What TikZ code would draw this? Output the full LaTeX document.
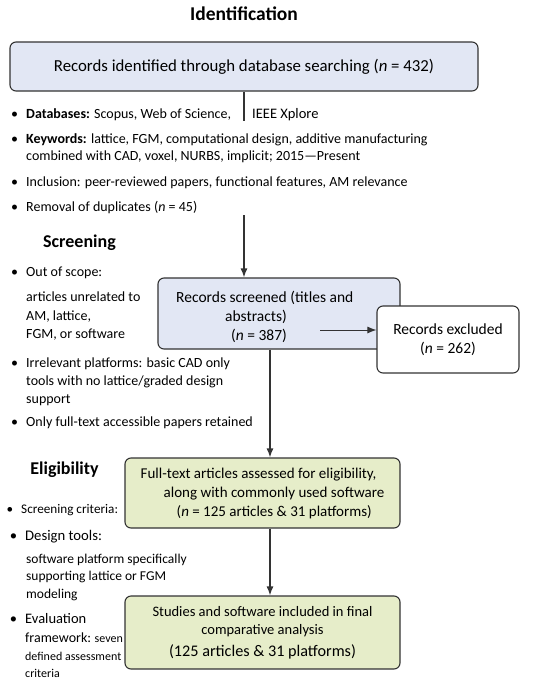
\documentclass[tikz,border=0pt]{standalone}
\usepackage{fontspec}
\setmainfont{Carlito}
\usetikzlibrary{arrows.meta}
\definecolor{boxblue}{HTML}{E2E7F4}
\definecolor{boxgreen}{HTML}{E6EDC9}
\definecolor{edge}{HTML}{333333}
\newcommand{\bul}{\makebox[0pt][r]{\textbullet\hspace{8pt}}}

\begin{document}
\begin{tikzpicture}[x=1pt,y=-1pt,
  stage/.style={inner sep=0pt,font=\fontsize{19}{22}\selectfont\bfseries},
  item/.style={anchor=west,inner sep=0pt,align=left,font=\fontsize{14}{17.5}\selectfont},
  box/.style={draw=edge,line width=1.1pt,rounded corners=6pt,align=center,inner sep=2pt,font=\fontsize{15.5}{19}\selectfont},
  bluebox/.style={box,fill=boxblue},
  greenbox/.style={box,fill=boxgreen},
  arr/.style={draw=edge,line width=1.4pt,-{Latex[length=9pt,width=7pt]}}]
\useasboundingbox (0,0) rectangle (550,689);

% Identification
\node[stage,font=\fontsize{19.5}{22}\selectfont\bfseries] (tIdent) at (244,14) {Identification};
\node[bluebox,font=\fontsize{16.8}{20}\selectfont,minimum width=468pt,minimum height=49pt] (ident) at (244,66.5)
  {Records identified through database searching (\textit{n} = 432)};

% Screening boxes
\node[bluebox,minimum width=242pt,minimum height=71pt] (scr) at (279,313.5) {};
\node[anchor=west,inner sep=0pt,align=left,font=\fontsize{15.5}{19}\selectfont] (scrTxt) at (176,317)
  {Records screened (titles and\\\hspace*{49pt}abstracts)\\\hspace*{55pt}(\textit{n} = 387)};
\node[box,fill=white,minimum width=142pt,minimum height=67pt] (excl) at (448,339.5)
  {Records excluded\\(\textit{n} = 262)};

% Eligibility boxes
\node[greenbox,align=left,font=\fontsize{15}{19}\selectfont,minimum width=275pt,minimum height=70pt] (elig) at (262.5,493)
  {Full-text articles assessed for eligibility,\\\hspace*{23pt}along with commonly used software\\\hspace*{36pt}(\textit{n} = 125 articles \& 31 platforms)};
\node[greenbox,font=\fontsize{14.5}{18.5}\selectfont,minimum width=275pt,minimum height=73pt] (incl) at (262.5,632.5)
  {Studies and software included in final\\comparative analysis\\[3pt]{\fontsize{16.2}{19}\selectfont(125 articles \& 31 platforms)}};

% connectors
\coordinate (cut) at (320,330);
\draw[arr] (ident.south) -- (ident.south |- scr.north);
\draw[arr,line width=1pt] (cut) -- (cut -| excl.west);
\draw[arr] ([xshift=-9pt]scr.south) -- ([xshift=-9pt]scr.south |- elig.north);
\draw[arr] ([xshift=7.5pt]elig.south) -- ([xshift=7.5pt]elig.south |- incl.north);

% white band behind the search notes
\fill[white] (5,121) rectangle (500,215);

% notes: identification
\node[item] (dbase) at (26,115) {\bul\textbf{Databases:} Scopus, Web of Science,};
\node[item,font=\fontsize{14.5}{17.5}\selectfont] (ieee) at (252,115) {IEEE Xplore};
\node[item,align=left,font=\fontsize{14}{17}\selectfont] (keyw) at (26,148.5)
  {\bul\textbf{Keywords:} lattice, FGM, computational design, additive manufacturing\\combined with CAD, voxel, NURBS, implicit; 2015---Present};
\node[item] (inclu) at (26,183) {\bul Inclusion: peer-reviewed papers, functional features, AM relevance};
\node[item] (dupl) at (26,208) {\bul Removal of duplicates (\textit{n} = 45)};

% notes: screening
\node[stage,font=\fontsize{18}{21}\selectfont\bfseries] (tScr) at (79.5,243) {Screening};
\node[item] (scope) at (26,273) {\bul Out of scope:};
\node[item,font=\fontsize{14}{18.5}\selectfont] (scopeTxt) at (26,316.5)
  {articles unrelated to\\AM, lattice,\\FGM, or software};
\node[item,font=\fontsize{14}{18}\selectfont] (irrel) at (26,382)
  {\bul Irrelevant platforms: basic CAD only\\tools with no lattice/graded design\\support};
\node[item] (full) at (26,423) {\bul Only full-text accessible papers retained};

% notes: eligibility
\node[stage,font=\fontsize{18}{21}\selectfont\bfseries] (tElig) at (64.5,470) {Eligibility};
\node[item,font=\fontsize{13.2}{15}\selectfont] (crit) at (21,510) {\bul Screening criteria:};
\node[item,font=\fontsize{14.7}{18}\selectfont] (tools) at (25,537) {\bul Design tools:};
\node[item,font=\fontsize{13.5}{17.5}\selectfont] (toolsTxt) at (26,577)
  {software platform specifically\\supporting lattice or FGM\\modeling};
\node[item,font=\fontsize{14.5}{18}\selectfont] (evalu) at (25,619) {\bul Evaluation};
\node[item,font=\fontsize{12}{17.5}\selectfont] (evaluTxt) at (25,655.5)
  {{\fontsize{14}{17.5}\selectfont framework:} seven\\defined assessment\\criteria};
\end{tikzpicture}
\end{document}
